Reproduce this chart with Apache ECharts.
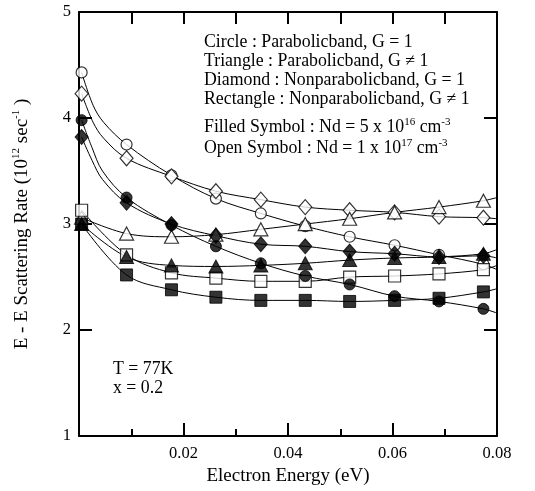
<!DOCTYPE html>
<html>
<head>
<meta charset="utf-8">
<script src="https://cdn.jsdelivr.net/npm/echarts@6/dist/echarts.min.js"></script>
<style>
  html, body { margin: 0; padding: 0; background: #fff; }
  #chart { width: 535px; height: 491px; }
</style>
</head>
<body>
<div id="chart"></div>
<script>
// Electron energy (eV) at which each scattering rate was evaluated
const energy = [0.0005, 0.0091, 0.0177, 0.0262, 0.0348, 0.0433, 0.0518, 0.0604, 0.0689, 0.0774];

// E-E scattering rate (10^12 s^-1)
const circleOpen    = [4.43, 3.75, 3.46, 3.24, 3.10, 2.98, 2.88, 2.80, 2.71, 2.62];
const circleFilled  = [3.98, 3.25, 2.99, 2.79, 2.63, 2.51, 2.43, 2.32, 2.27, 2.20];
const triangleOpen  = [3.06, 2.91, 2.88, 2.90, 2.95, 3.00, 3.05, 3.11, 3.16, 3.22];
const triangleFilled= [3.00, 2.69, 2.61, 2.60, 2.61, 2.63, 2.66, 2.68, 2.69, 2.72];
const diamondOpen   = [4.23, 3.62, 3.45, 3.31, 3.23, 3.16, 3.13, 3.11, 3.07, 3.06];
const diamondFilled = [3.82, 3.20, 3.00, 2.89, 2.81, 2.79, 2.74, 2.72, 2.69, 2.70];
const rectOpen      = [3.13, 2.71, 2.54, 2.49, 2.46, 2.46, 2.50, 2.51, 2.53, 2.57];
const rectFilled    = [3.00, 2.52, 2.38, 2.31, 2.28, 2.28, 2.27, 2.28, 2.30, 2.36];

// Extra knots of the fitted curves near zero energy and at the right edge
const circleOpenFit     = [[0.0027, 4.12], [0.0047, 3.96]];
const circleFilledFit   = [[0.0025, 3.72], [0.0045, 3.50]];
const diamondOpenFit    = [[0.0027, 3.96], [0.0047, 3.81]];
const diamondFilledFit  = [[0.0025, 3.60], [0.0045, 3.42]];
const fitEnd = {
  circleOpen: 2.57, circleFilled: 2.16, triangleOpen: 3.25, triangleFilled: 2.76,
  diamondOpen: 3.05, diamondFilled: 2.68, rectOpen: 2.61, rectFilled: 2.39
};

// Axis ticks
const xTicks = [0, 0.02, 0.04, 0.06, 0.08];
const yTicks = [1, 2, 3, 4, 5];

const SERIF = '"Liberation Serif", "DejaVu Serif", serif';

const groups = [
  { key: 'circleOpen', vals: circleOpen, fit: circleOpenFit, symbol: 'circle', size: 11, filled: false },
  { key: 'diamondOpen', vals: diamondOpen, fit: diamondOpenFit, symbol: 'diamond', size: [13, 15], filled: false },
  { key: 'triangleOpen', vals: triangleOpen, fit: [], symbol: 'triangle', size: [14, 13], filled: false },
  { key: 'rectOpen', vals: rectOpen, fit: [], symbol: 'rect', size: 12, filled: false },
  { key: 'circleFilled', vals: circleFilled, fit: circleFilledFit, symbol: 'circle', size: 11, filled: true },
  { key: 'diamondFilled', vals: diamondFilled, fit: diamondFilledFit, symbol: 'diamond', size: [13, 15], filled: true },
  { key: 'triangleFilled', vals: triangleFilled, fit: [], symbol: 'triangle', size: [14, 13], filled: true },
  { key: 'rectFilled', vals: rectFilled, fit: [], symbol: 'rect', size: 12, filled: true }
];

const series = [];
groups.forEach(g => {
  const pts = energy.map((x, i) => [x, g.vals[i]]);
  const curve = pts.concat(g.fit, [[0.08, fitEnd[g.key]]]).sort((a, b) => a[0] - b[0]);
  series.push({
    type: 'line', data: curve, smooth: 0.35, showSymbol: false, silent: true,
    lineStyle: { color: '#000', width: 1 }, z: 2
  });
});
groups.forEach(g => {
  series.push({
    type: 'scatter', data: energy.map((x, i) => [x, g.vals[i]]),
    symbol: g.symbol, symbolSize: g.size,
    itemStyle: g.filled ? { color: '#000', borderColor: '#000', borderWidth: 1 }
                        : { color: '#fff', borderColor: '#000', borderWidth: 1.2 },
    z: 3
  });
});

const sup = { fontSize: 11, fontFamily: SERIF, verticalAlign: 'top', lineHeight: 9, fill: '#000' };
const txt = (x, y, text, size) => ({
  type: 'text', left: x, top: y, z: 10,
  style: {
    text, fill: '#000', font: (size || 17.8) + 'px ' + SERIF,
    rich: { sup, n: { fontSize: size || 17.8, fontFamily: SERIF, lineHeight: 20, fill: '#000' } }
  }
});

const chart = echarts.init(document.getElementById('chart'), null, { renderer: 'canvas' });
chart.setOption({
  animation: false,
  backgroundColor: '#fff',
  grid: { left: 79, right: 38, top: 12, bottom: 49 },
  xAxis: [{
    type: 'value', min: xTicks[0], max: xTicks[xTicks.length - 1], interval: 0.02,
    name: 'Electron Energy (eV)', nameLocation: 'middle', nameGap: 30,
    nameTextStyle: { fontFamily: SERIF, fontSize: 19, color: '#000' },
    axisLine: { show: true, onZero: false, lineStyle: { color: '#000', width: 2 } },
    axisTick: { inside: true, length: 13, lineStyle: { color: '#000', width: 2 } },
    minorTick: { show: true, splitNumber: 2, length: 7, lineStyle: { color: '#000', width: 2 } },
    axisLabel: { fontFamily: SERIF, fontSize: 16.5, color: '#000', margin: 9,
      formatter: v => (v === 0 ? '' : v.toFixed(2)) },
    splitLine: { show: false }
  }, {
    type: 'value', position: 'top', min: 0, max: 0.08, interval: 0.01,
    axisLine: { show: true, onZero: false, lineStyle: { color: '#000', width: 2 } },
    axisTick: { inside: true, length: 12, lineStyle: { color: '#000', width: 2 } },
    axisLabel: { show: false }, splitLine: { show: false }
  }],
  yAxis: [{
    type: 'value', min: yTicks[0], max: yTicks[yTicks.length - 1], interval: 1,
    axisLine: { show: true, onZero: false, lineStyle: { color: '#000', width: 2 } },
    axisTick: { inside: true, length: 13, lineStyle: { color: '#000', width: 2 } },
    axisLabel: { fontFamily: SERIF, fontSize: 16.5, color: '#000', margin: 8 },
    splitLine: { show: false }
  }, {
    type: 'value', position: 'right', min: 1, max: 5, interval: 1,
    axisLine: { show: true, onZero: false, lineStyle: { color: '#000', width: 2 } },
    axisTick: { inside: true, length: 13, lineStyle: { color: '#000', width: 2 } },
    axisLabel: { show: false }, splitLine: { show: false }
  }],
  series,
  graphic: [
    txt(204, 33, 'Circle : Parabolicband, G = 1'),
    txt(204, 52, 'Triangle : Parabolicband, G ≠ 1'),
    txt(204, 71, 'Diamond : Nonparabolicband, G = 1'),
    txt(204, 90, 'Rectangle : Nonparabolicband, G ≠ 1'),
    txt(204, 117, '{n|Filled Symbol : Nd = 5 x 10}{sup|16}{n| cm}{sup|-3}'),
    txt(204, 138, '{n|Open Symbol : Nd = 1 x 10}{sup|17}{n| cm}{sup|-3}'),
    txt(113, 360, 'T = 77K'),
    txt(113, 379, 'x = 0.2'),
    {
      type: 'text', x: 22, y: 224, rotation: Math.PI / 2, z: 10,
      style: {
        text: '{n|E - E Scattering Rate (10}{sup|12}{n| sec}{sup|-1}{n| )}',
        align: 'center', verticalAlign: 'middle', fill: '#000',
        font: '19px ' + SERIF,
        rich: { sup, n: { fontSize: 19, fontFamily: SERIF, lineHeight: 22, fill: '#000' } }
      }
    }
  ]
});
</script>
</body>
</html>
